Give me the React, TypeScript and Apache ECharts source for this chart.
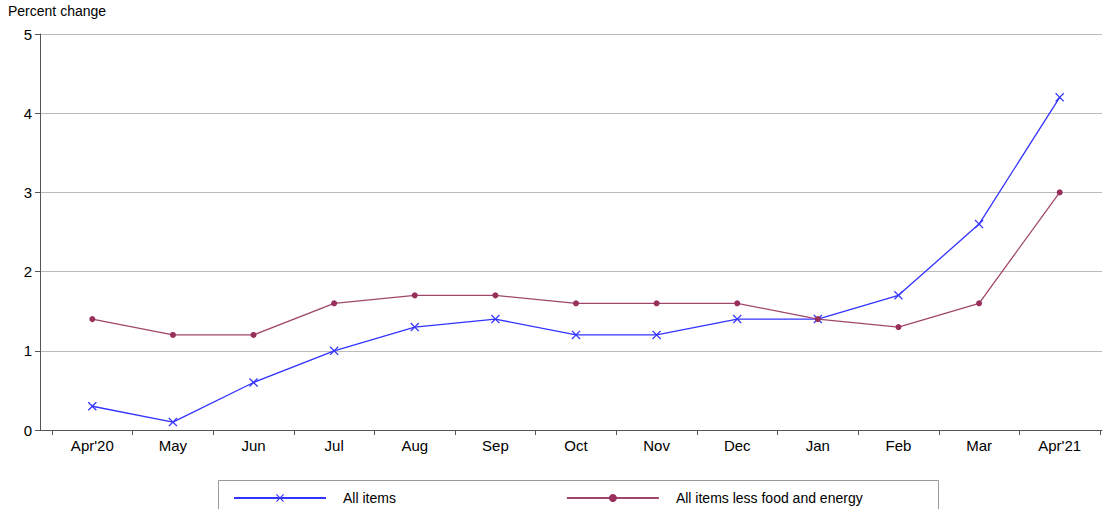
import React, { useEffect, useRef } from 'react';
import * as echarts from 'echarts';

const months = ["Apr'20", 'May', 'Jun', 'Jul', 'Aug', 'Sep', 'Oct', 'Nov', 'Dec', 'Jan', 'Feb', 'Mar', "Apr'21"];
const allItems = [0.3, 0.1, 0.6, 1.0, 1.3, 1.4, 1.2, 1.2, 1.4, 1.4, 1.7, 2.6, 4.2];
const core = [1.4, 1.2, 1.2, 1.6, 1.7, 1.7, 1.6, 1.6, 1.6, 1.4, 1.3, 1.6, 3.0];

const cross = 'path://M0,1L1,0L5,4L9,0L10,1L6,5L10,9L9,10L5,6L1,10L0,9L4,5Z';
const font = 'Liberation Sans, Arial, sans-serif';

export default function App() {
  const ref = useRef<HTMLDivElement>(null);

  useEffect(() => {
    document.body.style.margin = '0';
    const chart = echarts.init(ref.current, null, { renderer: 'svg' });
    chart.setOption({
      animation: false,
      textStyle: { fontFamily: font },
      // grid 0 carries the frame and gridlines, grid 1 the category positions
      grid: [
        { left: 40, right: 4, top: 34, bottom: 79 },
        { left: 52, right: 6, top: 34, bottom: 79 },
      ],
      graphic: [
        { type: 'text', left: 8, top: 4, style: { text: 'Percent change', font: `14px ${font}`, fill: '#000' } },
        { type: 'rect', shape: { x: 218.5, y: 480.5, width: 720, height: 40 }, style: { fill: 'none', stroke: '#999', lineWidth: 1 } },
      ],
      legend: {
        left: 228, top: 486, itemGap: 170, itemWidth: 92, itemHeight: 10,
        textStyle: { fontSize: 14, color: '#000', fontFamily: font, padding: [0, 0, 0, 12] },
        data: ['All items', 'All items less food and energy'],
      },
      xAxis: [
        {
          type: 'value', gridIndex: 0, min: 0, max: 1,
          axisLine: { show: true, lineStyle: { color: '#555' } },
          axisTick: { show: false }, axisLabel: { show: false }, splitLine: { show: false },
        },
        {
          type: 'category', gridIndex: 1, data: months, boundaryGap: true,
          axisLine: { show: false },
          axisTick: { show: true, lineStyle: { color: '#555' } },
          axisLabel: { color: '#000', fontSize: 15, margin: 8 },
        },
      ],
      yAxis: [
        {
          type: 'value', gridIndex: 0, min: 0, max: 5, interval: 1,
          axisLine: { show: true, lineStyle: { color: '#555' } },
          axisTick: { show: true, lineStyle: { color: '#555' } },
          axisLabel: { color: '#000', fontSize: 15 },
          splitLine: { show: true, lineStyle: { color: '#bbb' } },
        },
        { type: 'value', gridIndex: 1, min: 0, max: 5, interval: 1, show: false },
      ],
      series: [
        {
          name: 'All items', type: 'line', data: allItems, xAxisIndex: 1, yAxisIndex: 1,
          symbol: cross, symbolSize: 9,
          lineStyle: { color: '#3333ff', width: 1.3 }, itemStyle: { color: '#3333ff' },
        },
        {
          name: 'All items less food and energy', type: 'line', data: core, xAxisIndex: 1, yAxisIndex: 1,
          symbol: 'circle', symbolSize: 6,
          lineStyle: { color: '#a0466a', width: 1.3 }, itemStyle: { color: '#99305c' },
        },
      ],
    });
    return () => chart.dispose();
  }, []);

  return <div ref={ref} style={{ width: 1106, height: 509 }} />;
}
